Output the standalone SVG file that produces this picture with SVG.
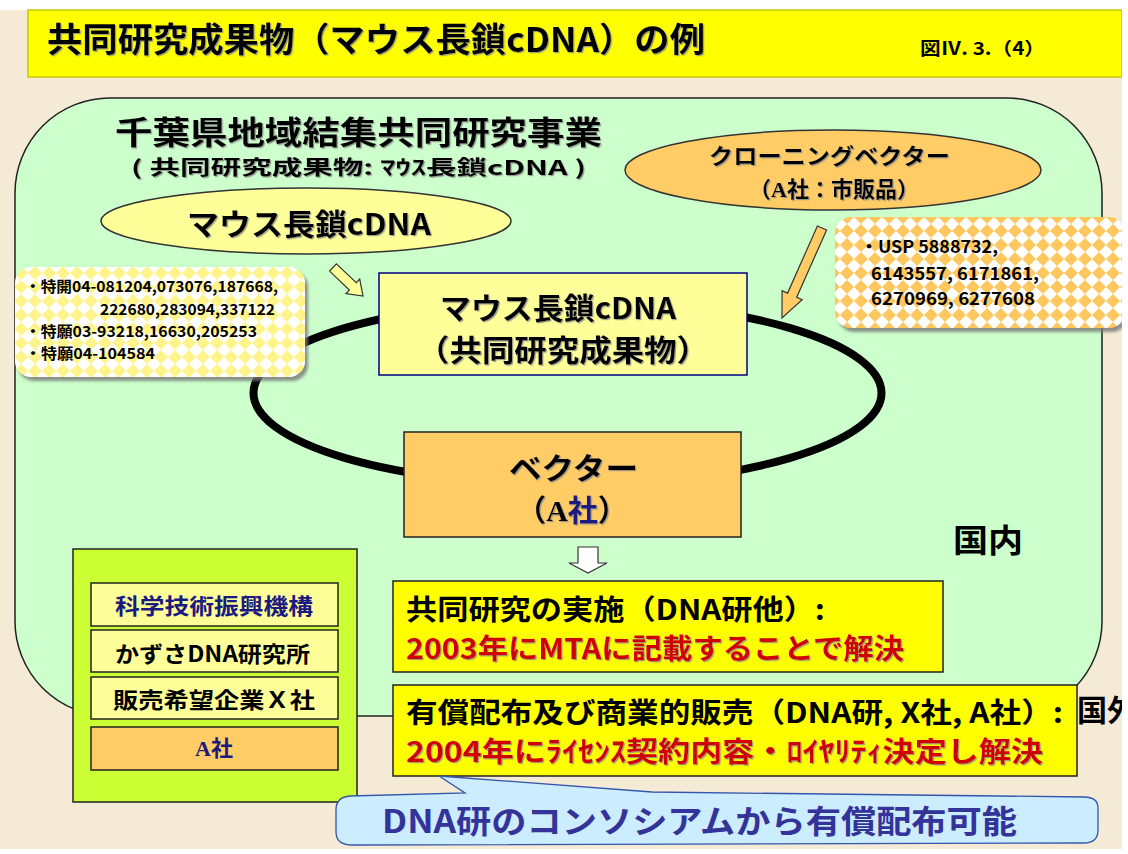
<svg xmlns="http://www.w3.org/2000/svg" width="1128" height="854" viewBox="0 0 1128 854">
<defs>
<style>
.t{font-family:"Noto Sans CJK JP","Noto Sans",sans-serif;font-weight:bold;fill:#000}
.sh{filter:url(#tsh)}
.ser{font-family:"Liberation Serif","Noto Serif",serif;font-weight:bold}
.red{fill:#d00000}
.navy{fill:#1a1a80}
.ln{stroke:#222;stroke-width:1.5}
</style>
<filter id="tsh" x="-5%" y="-20%" width="110%" height="150%"><feDropShadow dx="1.2" dy="1.2" stdDeviation="0.3" flood-color="#888" flood-opacity="0.8"/></filter>
<filter id="bsh" x="-5%" y="-5%" width="115%" height="120%"><feDropShadow dx="3" dy="4" stdDeviation="1.5" flood-color="#777" flood-opacity="0.8"/></filter>
<pattern id="dY" width="14" height="14" patternUnits="userSpaceOnUse"><rect width="14" height="14" fill="#fff"/><polygon points="7,0 14,7 7,14 0,7" fill="#fff38c"/></pattern>
<pattern id="dO" width="14" height="14" patternUnits="userSpaceOnUse"><rect width="14" height="14" fill="#fff"/><polygon points="7,0 14,7 7,14 0,7" fill="#ffc85e"/></pattern>
</defs>
<rect width="1128" height="854" fill="#f4ead6"/>
<rect width="1128" height="10" fill="#fff"/>
<g id="titlebar">
<rect x="28" y="10" width="1094" height="67" fill="#ffff00" stroke="#c8c800" stroke-width="1.5"/>
<text class="t sh" x="47" y="52" font-size="34" textLength="658" lengthAdjust="spacingAndGlyphs">共同研究成果物（マウス長鎖cDNA）の例</text>
<text class="t" x="920" y="55" font-size="18" textLength="125" lengthAdjust="spacingAndGlyphs">図Ⅳ. 3.（4）</text>
</g>
<g id="domestic">
<rect x="15" y="98" width="1087" height="618" rx="95" ry="95" fill="#ccffcc" stroke="#222" stroke-width="1.5"/>
<text class="t sh" x="115" y="144" font-size="32" textLength="487" lengthAdjust="spacingAndGlyphs">千葉県地域結集共同研究事業</text>
<text class="t sh" x="131" y="175" font-size="20" textLength="455" lengthAdjust="spacingAndGlyphs">( 共同研究成果物: ﾏｳｽ長鎖cDNA )</text>
<text class="t" x="953" y="552" font-size="32" textLength="70" lengthAdjust="spacingAndGlyphs">国内</text>
</g>
<g id="connectors">
<ellipse cx="567.5" cy="393" rx="314" ry="92" fill="none" stroke="#000" stroke-width="8"/>
<polygon points="336.4,263.9 356.3,282.7 359.7,279.1 363,296 346,293.6 349.4,290 329.6,271.1" fill="#ffff99" stroke="#333" stroke-width="1.2"/>
<polygon points="817.4,226 826.6,230 796.7,297.2 802.2,299.6 782,318 782.1,290.7 787.6,293.1" fill="#ffcc66" stroke="#333" stroke-width="1.2"/>
<polygon points="578,547 598,547 598,563 607,563 588,573 569,563 578,563" fill="#fff" stroke="#333" stroke-width="1.2"/>
</g>
<g id="ellipse-cdna">
<ellipse cx="306" cy="221" rx="205" ry="33" fill="#ffff99" stroke="#333" stroke-width="1.5"/>
<text class="t sh" x="187" y="235" font-size="30" textLength="244" lengthAdjust="spacingAndGlyphs">マウス長鎖cDNA</text>
</g>
<g id="ellipse-vector">
<ellipse cx="833" cy="170" rx="208" ry="40" fill="#ffcc66" stroke="#333" stroke-width="1.5"/>
<text class="t sh" x="709" y="164" font-size="22" textLength="241" lengthAdjust="spacingAndGlyphs">クローニングベクター</text>
<text class="t sh" x="834" y="197" font-size="22" text-anchor="middle">（<tspan class="ser">A</tspan>社：市販品）</text>
</g>
<g id="patents-jp">
<rect x="15" y="267" width="290" height="110" rx="16" fill="url(#dY)" filter="url(#bsh)"/>
<text class="t" x="25" y="292" font-size="15" textLength="253" lengthAdjust="spacingAndGlyphs">・特開04-081204,073076,187668,</text>
<text class="t" x="100" y="315" font-size="15" textLength="175" lengthAdjust="spacingAndGlyphs">222680,283094,337122</text>
<text class="t" x="25" y="337" font-size="15" textLength="232" lengthAdjust="spacingAndGlyphs">・特願03-93218,16630,205253</text>
<text class="t" x="25" y="359" font-size="15" textLength="130" lengthAdjust="spacingAndGlyphs">・特願04-104584</text>
</g>
<g id="patents-us">
<rect x="835" y="217" width="290" height="111" rx="16" fill="url(#dO)" filter="url(#bsh)"/>
<text class="t" x="860" y="253" font-size="17" textLength="138" lengthAdjust="spacingAndGlyphs">・USP 5888732,</text>
<text class="t" x="871" y="280" font-size="17" textLength="168" lengthAdjust="spacingAndGlyphs">6143557, 6171861,</text>
<text class="t" x="871" y="305" font-size="17" textLength="164" lengthAdjust="spacingAndGlyphs">6270969, 6277608</text>
</g>
<g id="box-cdna">
<rect x="379" y="273" width="368" height="102" fill="#ffff99" stroke="#000080" stroke-width="1.5"/>
<text class="t sh" x="440" y="319" font-size="30" textLength="236" lengthAdjust="spacingAndGlyphs">マウス長鎖cDNA</text>
<text class="t sh" x="417" y="361" font-size="30" textLength="292" lengthAdjust="spacingAndGlyphs">（共同研究成果物）</text>
</g>
<g id="box-vector">
<rect x="404" y="432" width="337" height="105" fill="#ffcc66" stroke="#222" stroke-width="1.5"/>
<text class="t sh" x="509" y="479" font-size="30" textLength="129" lengthAdjust="spacingAndGlyphs">ベクター</text>
<text class="t sh" x="572" y="521" font-size="30" text-anchor="middle">（<tspan class="ser">A</tspan><tspan class="navy">社</tspan>）</text>
</g>
<g id="members">
<rect x="73" y="549" width="284" height="253" fill="#ccff33" stroke="#222" stroke-width="1.5"/>
<rect x="91" y="583" width="247" height="43" fill="#ffff99" class="ln"/>
<text class="t navy" x="115" y="614" font-size="22" textLength="198" lengthAdjust="spacingAndGlyphs">科学技術振興機構</text>
<rect x="91" y="630" width="247" height="42" fill="#ffff99" class="ln"/>
<text class="t" x="115" y="662" font-size="22" textLength="195" lengthAdjust="spacingAndGlyphs">かずさDNA研究所</text>
<rect x="91" y="677" width="247" height="42" fill="#ffff99" class="ln"/>
<text class="t" x="113" y="708" font-size="22" textLength="202" lengthAdjust="spacingAndGlyphs">販売希望企業Ｘ社</text>
<rect x="91" y="727" width="247" height="43" fill="#ffcc66" class="ln"/>
<text class="t navy" x="214" y="756" font-size="22" text-anchor="middle"><tspan class="ser">A</tspan>社</text>
</g>
<g id="box-joint">
<rect x="393" y="581" width="550" height="91" fill="#ffff00" class="ln"/>
<text class="t" x="406" y="620" font-size="28" textLength="419" lengthAdjust="spacingAndGlyphs">共同研究の実施（DNA研他）:</text>
<text class="t red sh" x="406" y="659" font-size="28" textLength="498" lengthAdjust="spacingAndGlyphs">2003年にMTAに記載することで解決</text>
</g>
<g id="box-sales">
<rect x="393" y="685" width="684" height="91" fill="#ffff00" class="ln"/>
<text class="t" x="406" y="723" font-size="28" textLength="657" lengthAdjust="spacingAndGlyphs">有償配布及び商業的販売（DNA研, X社, A社）:</text>
<text class="t red sh" x="406" y="762" font-size="28" textLength="637" lengthAdjust="spacingAndGlyphs">2004年にﾗｲｾﾝｽ契約内容・ﾛｲﾔﾘﾃｨ決定し解決</text>
</g>
<g id="overseas">
<text class="t" x="1077" y="721" font-size="30">国外</text>
</g>
<g id="callout">
<path d="M439,776 L465,793 L350,796 Q336,797 336,810 L336,832 Q336,845 352,845 L1084,843 Q1098,843 1098,830 L1098,808 Q1098,797 1084,797 L652,792 Z" fill="#ccecff" stroke="#3355aa" stroke-width="1.3"/>
<text class="t" x="382" y="833" font-size="32" style="fill:#333399" textLength="635" lengthAdjust="spacingAndGlyphs">DNA研のコンソシアムから有償配布可能</text>
</g>
<rect x="1122" y="0" width="6" height="854" fill="#fff"/>
<rect x="0" y="849" width="1128" height="5" fill="#fff"/>
</svg>
